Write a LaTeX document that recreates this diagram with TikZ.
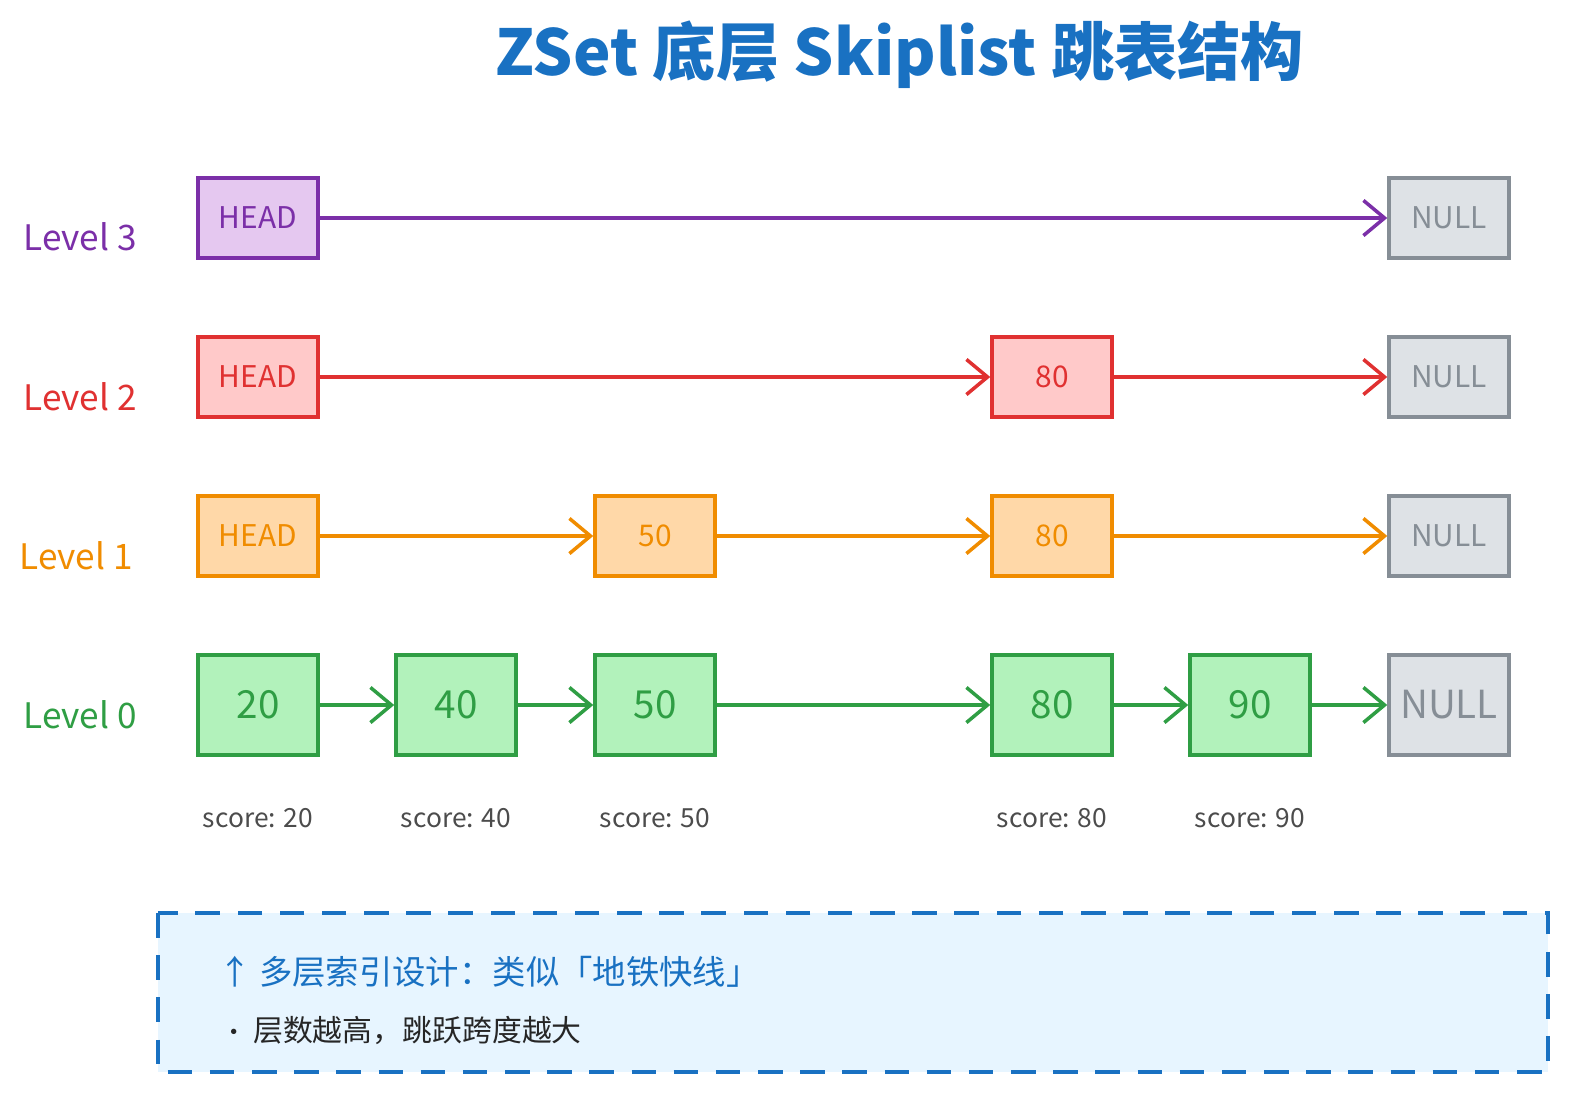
\documentclass[tikz,border=0pt]{standalone}
\usepackage{fontspec}
\setmainfont{Noto Sans CJK SC}
\usetikzlibrary{positioning,arrows.meta}
\definecolor{lpurple}{HTML}{7B2FA8}\definecolor{fpurple}{HTML}{E5C8F0}
\definecolor{lred}{HTML}{E03131}\definecolor{fred}{HTML}{FFC9C9}
\definecolor{lorange}{HTML}{F08C00}\definecolor{forange}{HTML}{FFD8A8}
\definecolor{lgreen}{HTML}{2F9E44}\definecolor{fgreen}{HTML}{B2F2BB}
\definecolor{lgray}{HTML}{868E96}\definecolor{fgray}{HTML}{DEE2E6}
\definecolor{lblue}{HTML}{1971C2}\definecolor{fblue}{HTML}{E7F5FF}
\begin{document}
\begin{tikzpicture}[
  x=0.02cm, y=-0.02cm,
  cell/.style={draw=l#1, fill=f#1, line width=2pt, minimum width=2.4cm,
    minimum height=1.6cm, text=l#1, font=\fontsize{17}{20}\selectfont},
  tall/.style={minimum height=2cm, font=\fontsize{22}{26}\selectfont},
  link/.style={draw=l#1, line width=2pt, -{Straight Barb[length=12pt,width=20pt,line width=2pt]}},
  lvl/.style={text=l#1, font=\fontsize{20}{24}\selectfont},
  score/.style={text=black!70, font=\fontsize{15}{18}\selectfont},
  ]
  \useasboundingbox (0,0) rectangle (1580,1100);
  \node [text=lblue, font=\fontsize{36}{42}\selectfont\bfseries] (title) at (900,55)
    {ZSet 底层 Skiplist 跳表结构};

  % level 3
  \node [lvl=purple] (l3) at (80,237) {Level 3};
  \node [cell=purple] (h3) at (258,218) {HEAD};
  \node [cell=gray] (n3) at (1449,218) {NULL};
  \draw [link=purple] (h3) -- (n3);

  % level 2
  \node [lvl=red] (l2) at (80,397) {Level 2};
  \node [cell=red] (h2) at (258,377) {HEAD};
  \node [cell=red] (e80-2) at (1052,377) {80};
  \node [cell=gray] (n2) at (1449,377) {NULL};
  \draw [link=red] (h2) -- (e80-2);
  \draw [link=red] (e80-2) -- (n2);

  % level 1
  \node [lvl=orange] (l1) at (76,556) {Level 1};
  \node [cell=orange] (h1) at (258,536) {HEAD};
  \node [cell=orange] (e50-1) at (655,536) {50};
  \node [cell=orange] (e80-1) at (1052,536) {80};
  \node [cell=gray] (n1) at (1449,536) {NULL};
  \draw [link=orange] (h1) -- (e50-1);
  \draw [link=orange] (e50-1) -- (e80-1);
  \draw [link=orange] (e80-1) -- (n1);

  % level 0
  \node [lvl=green] (l0) at (80,715) {Level 0};
  \node [cell=green, tall] (e20) at (258,705) {20};
  \node [cell=green, tall] (e40) at (456,705) {40};
  \node [cell=green, tall] (e50) at (655,705) {50};
  \node [cell=green, tall] (e80) at (1052,705) {80};
  \node [cell=green, tall] (e90) at (1250,705) {90};
  \node [cell=gray, tall] (n0) at (1449,705) {NULL};
  \draw [link=green] (e20) -- (e40);
  \draw [link=green] (e40) -- (e50);
  \draw [link=green] (e50) -- (e80);
  \draw [link=green] (e80) -- (e90);
  \draw [link=green] (e90) -- (n0);

  \foreach \v in {20,40,50,80,90}
    \node [score, below=0.9cm of e\v] (s\v) {score: \v};

  % note
  \draw [draw=lblue, fill=fblue, line width=2.5pt, dash pattern=on 14pt off 10pt]
    (158,913) rectangle (1548,1072);
  \node [anchor=west, text=lblue, font=\fontsize{19}{23}\selectfont] (note1) at (212,972)
    {↑ 多层索引设计：类似「地铁快线」};
  \node [anchor=west, text=black!85, font=\fontsize{17}{21}\selectfont] (note2) at (215,1030)
    {{\Large •} 层数越高，跳跃跨度越大};
\end{tikzpicture}
\end{document}
